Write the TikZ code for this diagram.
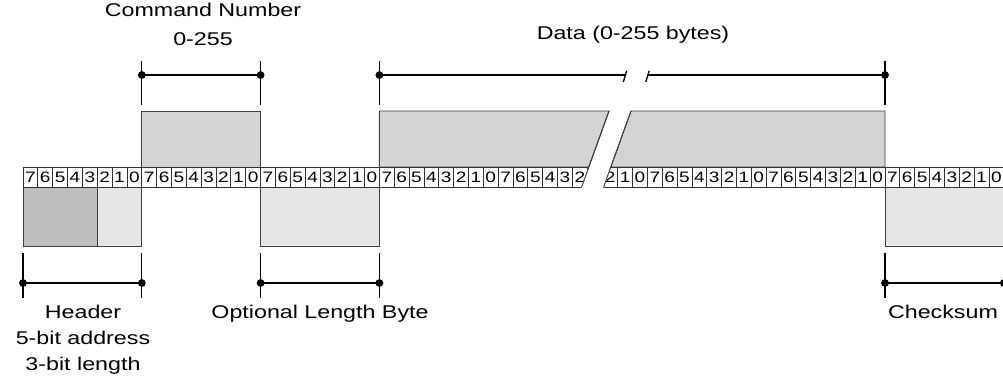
\documentclass[tikz,border=0pt]{standalone}
\usepackage{fontspec}
\setmainfont{Liberation Sans}[FakeStretch=1.26]
\usepackage{tikz}
\usetikzlibrary{arrows.meta,calc}

\definecolor{hdrgray}{RGB}{190,190,190}
\definecolor{lowgray}{RGB}{230,230,230}
\definecolor{higray}{RGB}{212,212,212}

\tikzset{
    field/.style={draw=black!75, line width=0.55pt},
    bitcell/.style={draw=black!80, line width=0.5pt, minimum width=0.297cm,
        minimum height=0.4cm, inner sep=0pt, font=\fontsize{8.6pt}{9pt}\selectfont},
    dimline/.style={line width=0.75pt, {Circle[length=4.4pt]}-{Circle[length=4.4pt]},
        shorten <=-2.2pt, shorten >=-2.2pt},
    dimstart/.style={line width=0.75pt, {Circle[length=4.4pt]}-, shorten <=-2.2pt},
    dimend/.style={line width=0.75pt, -{Circle[length=4.4pt]}, shorten >=-2.2pt},
    dimtick/.style={line width=0.75pt},
    lbl/.style={font=\fontsize{10.5pt}{15pt}\selectfont, inner sep=0pt, align=center}
}

\begin{document}
\begin{tikzpicture}[x=0.02cm, y=-0.02cm]
    \useasboundingbox (0,0) rectangle (1003,379);
    \clip (0,0) rectangle (1003,379);
    \def\w{14.85}

    % Fields
    \draw[field, fill=hdrgray] (23,187) rectangle (97.25,246.5);
    \draw[field, fill=lowgray] (97.25,187) rectangle (141.8,246.5);
    \draw[field, fill=higray] (141.8,111) rectangle (260.6,167);
    \draw[field, fill=lowgray] (260.6,187) rectangle (379.4,246.5);
    \draw[field, fill=higray] (379.4,167) -- (379.4,111) -- (609,111) -- (588.8,167) -- cycle;
    \draw[field, fill=higray] (631,111) -- (885,111) -- (885,167) -- (610.8,167) -- cycle;
    \draw[field, fill=lowgray] (885,187) rectangle (1010,246.5);

    % Bit cells, left of the break
    \begin{scope}
        \clip (0,150) -- (595,150) -- (577,200) -- (0,200) -- cycle;
        \foreach \i in {0,...,37} {
            \pgfmathtruncatemacro\b{7-mod(\i,8)}
            \node[bitcell] (L\i) at ({23+(\i+0.5)*\w},177) {\b};
        }
    \end{scope}

    % Bit cells, right of the break
    \begin{scope}
        \clip (617,150) -- (1010,150) -- (1010,200) -- (599.3,200) -- cycle;
        \foreach \j in {0,...,26} {
            \pgfmathtruncatemacro\b{mod(26-\j,8)}
            \node[bitcell] (R\j) at ({602.85+(\j+0.5)*\w},177) {\b};
        }
    \end{scope}

    % Break
    \draw[field] (609,111) -- (581.6,187);
    \draw[field] (631,111) -- (603.6,187);

    % Dimension marks
    \coordinate (cmdA) at (141.8,75);
    \coordinate (cmdB) at (260.6,75);
    \coordinate (datA) at (379.4,75);
    \coordinate (datB) at (885,75);
    \coordinate (brkA) at (625,75);
    \coordinate (brkB) at (647.5,75);
    \coordinate (hdrA) at (23,283);
    \coordinate (hdrB) at (141.8,283);
    \coordinate (lenA) at (260.6,283);
    \coordinate (lenB) at (379.4,283);
    \coordinate (sumA) at (885,283);
    \coordinate (sumB) at (1003.8,283);

    \foreach \c in {cmdA,cmdB,datA,datB}
        \draw[dimtick] (\c) ++(0,-14) -- ++(0,44);
    \foreach \c in {hdrA,hdrB,lenA,lenB,sumA,sumB}
        \draw[dimtick] (\c) ++(0,-30) -- ++(0,45);

    \draw[dimline] (cmdA) -- (cmdB);
    \draw[dimstart] (datA) -- (brkA);
    \draw[dimend] (brkB) -- (datB);
    \draw[dimtick] (brkA) ++(-1.7,7) -- ++(3.4,-11.3);
    \draw[dimtick] (brkB) ++(-1.7,7) -- ++(3.4,-11.3);
    \draw[dimline] (hdrA) -- (hdrB);
    \draw[dimline] (lenA) -- (lenB);
    \draw[dimline] (sumA) -- (sumB);

    % Labels
    \node[lbl, anchor=north] (cmdlbl) at (203,2.5) {Command Number\\[1.4pt]0-255};
    \node[lbl, anchor=base] (datlbl) at (633,39) {Data (0-255 bytes)};
    \node[lbl, anchor=north] (hdrlbl) at (83,304.5) {Header\\5-bit address\\3-bit length};
    \node[lbl, anchor=base] (lenlbl) at (320,318.3) {Optional Length Byte};
    \node[lbl, anchor=base] (sumlbl) at (943,318.3) {Checksum};
\end{tikzpicture}
\end{document}
